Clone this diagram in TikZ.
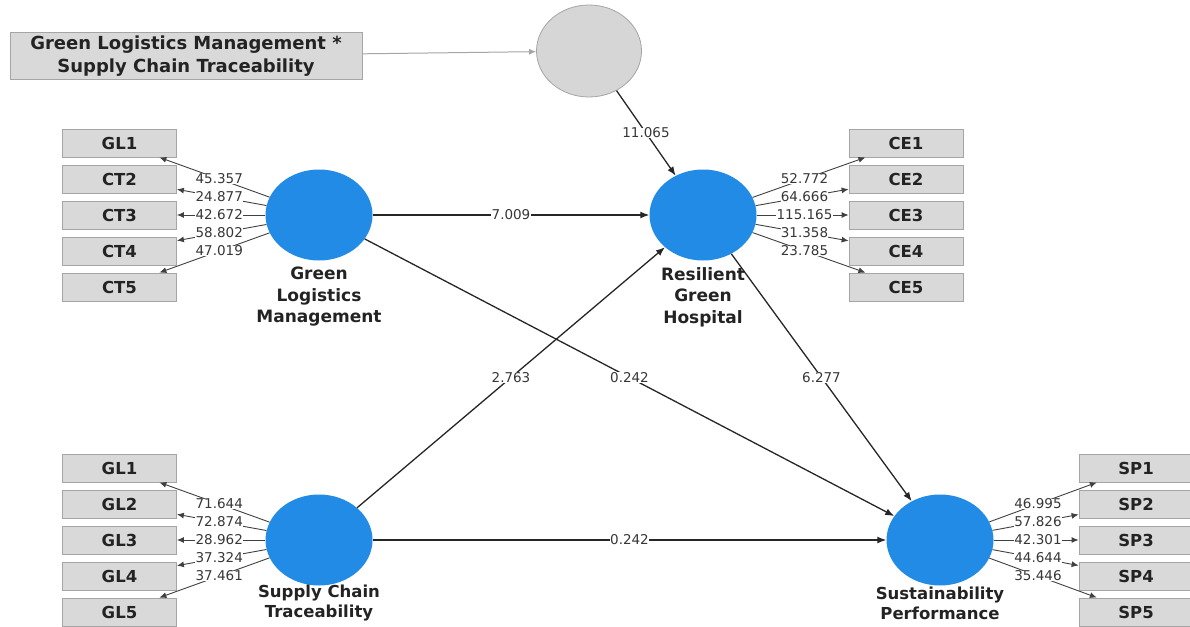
\documentclass[tikz,border=0pt]{standalone}
\usepackage{fontspec}
\setmainfont{DejaVu Sans}
\usetikzlibrary{shapes.geometric,arrows.meta,calc}
\definecolor{lvblue}{RGB}{34,139,230}
\definecolor{boxgrey}{RGB}{217,217,217}
\definecolor{boxedge}{RGB}{165,165,165}
\definecolor{textdark}{RGB}{35,35,35}
\definecolor{numgrey}{RGB}{55,55,55}
\definecolor{circgrey}{RGB}{214,214,214}
\begin{document}
\begin{tikzpicture}[x=1pt,y=-1pt,
 lv/.style={ellipse, fill=lvblue, minimum width=107pt, minimum height=91pt, inner sep=0pt},
 ind/.style={rectangle, fill=boxgrey, draw=boxedge, line width=0.8pt, minimum width=114pt, minimum height=28pt, inner sep=0pt, font=\fontsize{16.5}{18}\selectfont\bfseries, text=textdark},
 lbl/.style={fill=white, inner sep=0.3pt, font=\fontsize{13.5}{15}\selectfont, text=numgrey},
 ld/.style={draw=black!75, line width=0.9pt, -{Latex[length=7pt,width=6pt]}},
 pth/.style={draw=black!85, line width=1.3pt, -{Latex[length=9pt,width=7pt]}},
 lvname/.style={font=\fontsize{17}{21.5}\selectfont\bfseries, align=center, text=textdark, inner sep=0pt}
]
\useasboundingbox (0,0) rectangle (1190,626);
% interaction
\node[ind, minimum width=352pt, minimum height=47pt, align=center, font=\fontsize{18}{22.5}\selectfont\bfseries] (int) at (186,56) {Green Logistics Management *\\Supply Chain Traceability};
\node[ellipse, fill=circgrey, draw=boxedge, line width=0.8pt, minimum width=105pt, minimum height=92pt, inner sep=0pt] (gc) at (589,51) {};
% latent variables
\node[lv] (glm) at (319,215) {};
\node[lv] (rgh) at (703,215) {};
\node[lv] (sct) at (319,540) {};
\node[lv] (sp) at (940,540) {};
\node[lvname] (nglm) at (319,297) {Green\\Logistics\\Management};
\node[lvname] (nrgh) at (703,297) {Resilient\\Green\\Hospital};
\node[lvname, font=\fontsize{16.5}{20}\selectfont\bfseries] (nsct) at (319,603) {Supply Chain\\Traceability};
\node[lvname, font=\fontsize{16.5}{20}\selectfont\bfseries] (nsp) at (940,603) {Sustainability\\Performance};
% indicators
\foreach \n/\v [count=\i from 0] in {GL1/45.357,CT2/24.877,CT3/42.672,CT4/58.802,CT5/47.019}{
  \node[ind] (a\i) at (119.5,143+36*\i) {\n};
  \draw[ld] (glm) -- (a\i);
  \node[lbl] (la\i) at ($(glm)!0.5!(a\i)$) {\v};
}
\foreach \n/\v [count=\i from 0] in {CE1/52.772,CE2/64.666,CE3/115.165,CE4/31.358,CE5/23.785}{
  \node[ind] (b\i) at (906,143+36*\i) {\n};
  \draw[ld] (rgh) -- (b\i);
  \node[lbl] (lb\i) at ($(rgh)!0.5!(b\i)$) {\v};
}
\foreach \n/\v [count=\i from 0] in {GL1/71.644,GL2/72.874,GL3/28.962,GL4/37.324,GL5/37.461}{
  \node[ind] (c\i) at (119.5,468+36*\i) {\n};
  \draw[ld] (sct) -- (c\i);
  \node[lbl] (lc\i) at ($(sct)!0.5!(c\i)$) {\v};
}
\foreach \n/\v [count=\i from 0] in {SP1/46.995,SP2/57.826,SP3/42.301,SP4/44.644,SP5/35.446}{
  \node[ind] (d\i) at (1136,468+36*\i) {\n};
  \draw[ld] (sp) -- (d\i);
  \node[lbl] (ld\i) at ($(sp)!0.5!(d\i)$) {\v};
}
% structural paths
\draw[draw=boxedge, line width=1pt, -{Latex[length=7pt,width=6pt]}] (int) -- (gc);
\draw[pth] (gc) -- (rgh);
\draw[pth] (glm) -- (rgh);
\draw[pth] (glm) -- (sp);
\draw[pth] (sct) -- (rgh);
\draw[pth] (rgh) -- (sp);
\draw[pth] (sct) -- (sp);
\node[lbl] (p1) at ($(gc)!0.5!(rgh)$) {11.065};
\node[lbl] (p2) at ($(glm)!0.5!(rgh)$) {7.009};
\node[lbl] (p3) at ($(glm)!0.5!(sp)$) {0.242};
\node[lbl] (p4) at ($(sct)!0.5!(rgh)$) {2.763};
\node[lbl] (p5) at ($(rgh)!0.5!(sp)$) {6.277};
\node[lbl] (p6) at ($(sct)!0.5!(sp)$) {0.242};
\end{tikzpicture}
\end{document}
